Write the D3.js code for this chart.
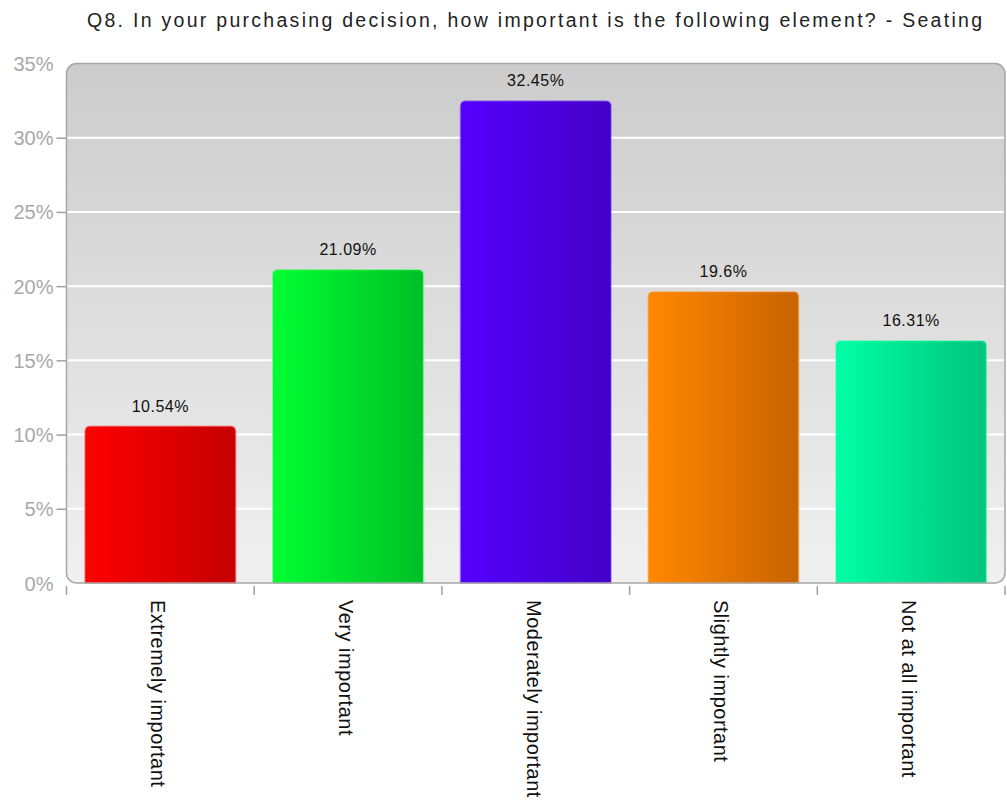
<!DOCTYPE html>
<html>
<head>
<meta charset="utf-8">
<script src="https://cdn.jsdelivr.net/npm/d3@7"></script>
<style>
  html, body { margin: 0; padding: 0; background: #ffffff; }
  svg { display: block; }
  text { font-family: "Liberation Sans", Arial, sans-serif; }
</style>
</head>
<body>
<svg id="chart" width="1007" height="802"></svg>
<script>
// Survey answers and their share of respondents (%)
const categories = ["Extremely important", "Very important", "Moderately important", "Slightly important", "Not at all important"];
const values = [10.54, 21.09, 32.45, 19.6, 16.31];
const yTicks = [0, 5, 10, 15, 20, 25, 30, 35];
const title = "Q8. In your purchasing decision, how important is the following element? - Seating";

// Bar fill: light on the left edge, darker on the right
const barLight = ["#ff0000", "#00ff33", "#5500ff", "#ff8800", "#00ffa6"];
const barDark  = ["#c40000", "#00bf26", "#4300c6", "#c86300", "#00c47f"];

const W = 1007, H = 802;
const plot = { left: 66.5, right: 1005, top: 63.5, bottom: 583 };

const svg = d3.select("#chart");
const defs = svg.append("defs");

// Plot background gradient
const bg = defs.append("linearGradient").attr("id", "plotBg")
  .attr("x1", 0).attr("y1", 0).attr("x2", 0).attr("y2", 1);
bg.append("stop").attr("offset", "0%").attr("stop-color", "#cccccc");
bg.append("stop").attr("offset", "100%").attr("stop-color", "#f0f0f0");

categories.forEach((c, i) => {
  const g = defs.append("linearGradient").attr("id", "bar" + i)
    .attr("x1", 0).attr("y1", 0).attr("x2", 1).attr("y2", 0);
  g.append("stop").attr("offset", "0%").attr("stop-color", barLight[i]);
  g.append("stop").attr("offset", "100%").attr("stop-color", barDark[i]);
});

const x = d3.scaleBand().domain(categories)
  .range([plot.left, plot.right]).paddingInner(0.2).paddingOuter(0.1);
const y = d3.scaleLinear().domain([0, 35]).range([plot.bottom, plot.top]);

// Title
svg.append("text")
  .attr("x", (87 + 982) / 2).attr("y", 27)
  .attr("text-anchor", "middle")
  .attr("font-size", 19.5)
  .attr("fill", "#222222")
  .attr("textLength", 895).attr("lengthAdjust", "spacing")
  .text(title);

// Plot area
svg.append("rect")
  .attr("x", plot.left).attr("y", plot.top)
  .attr("width", plot.right - plot.left).attr("height", plot.bottom - plot.top)
  .attr("rx", 10).attr("ry", 10)
  .attr("fill", "url(#plotBg)");

// Horizontal grid lines
svg.append("g").selectAll("line")
  .data(yTicks.filter(t => t > 0 && t < 35))
  .join("line")
  .attr("x1", plot.left).attr("x2", plot.right)
  .attr("y1", d => y(d)).attr("y2", d => y(d))
  .attr("stroke", "#ffffff").attr("stroke-width", 2);

// Y axis: ticks and labels
const yAxis = d3.axisLeft(y).tickValues(yTicks).tickSize(10).tickPadding(3)
  .tickFormat(d => d + "%");
const yg = svg.append("g").attr("transform", `translate(${plot.left},0)`).call(yAxis);
yg.select(".domain").remove();
yg.selectAll(".tick line").attr("stroke", "#a0a0a0").attr("stroke-width", 1.5)
  .filter(d => d === 0 || d === 35).remove();
yg.selectAll(".tick text")
  .attr("font-size", 20).attr("fill", "#a8a8a8")
  .attr("font-family", "Liberation Sans, Arial, sans-serif")
  .attr("dy", "0.35em");

// Bars with rounded tops
const barW = x.bandwidth();
const r = 5;
svg.append("g").selectAll("path")
  .data(values)
  .join("path")
  .attr("d", (v, i) => {
    const x0 = x(categories[i]), x1 = x0 + barW;
    const y0 = y(v), yb = y(0);
    return `M${x0},${yb} L${x0},${y0 + r} Q${x0},${y0} ${x0 + r},${y0} L${x1 - r},${y0} Q${x1},${y0} ${x1},${y0 + r} L${x1},${yb} Z`;
  })
  .attr("fill", (v, i) => `url(#bar${i})`)
  .attr("stroke", (v, i) => barLight[i])
  .attr("stroke-opacity", 0.35)
  .attr("stroke-width", 2);

// Plot border on top of bars
svg.append("rect")
  .attr("x", plot.left).attr("y", plot.top)
  .attr("width", plot.right - plot.left).attr("height", plot.bottom - plot.top)
  .attr("rx", 10).attr("ry", 10)
  .attr("fill", "none").attr("stroke", "#a6a6a6").attr("stroke-width", 1.5);

// Value labels
svg.append("g").selectAll("text")
  .data(values)
  .join("text")
  .attr("x", (v, i) => x(categories[i]) + barW / 2)
  .attr("y", v => y(v) - 15)
  .attr("text-anchor", "middle")
  .attr("font-size", 16)
  .attr("letter-spacing", 0.5)
  .attr("fill", "#111111")
  .text(v => v + "%");

// X axis: boundary ticks
const bounds = categories.map(c => x(c) - x.step() * x.paddingInner() / 2);
bounds.push(plot.right);
bounds[0] = plot.left;
svg.append("g").selectAll("line")
  .data(bounds)
  .join("line")
  .attr("x1", d => d).attr("x2", d => d)
  .attr("y1", plot.bottom + 3).attr("y2", plot.bottom + 12)
  .attr("stroke", "#a0a0a0").attr("stroke-width", 1.5);

// Category labels, rotated to read top to bottom
svg.append("g").selectAll("text")
  .data(categories)
  .join("text")
  .attr("transform", d => `translate(${x(d) + barW / 2 - 2},${plot.bottom + 17}) rotate(90)`)
  .attr("dy", "0.35em")
  .attr("font-size", 20)
  .attr("letter-spacing", 0.5)
  .attr("fill", "#111111")
  .text(d => d);
</script>
</body>
</html>
